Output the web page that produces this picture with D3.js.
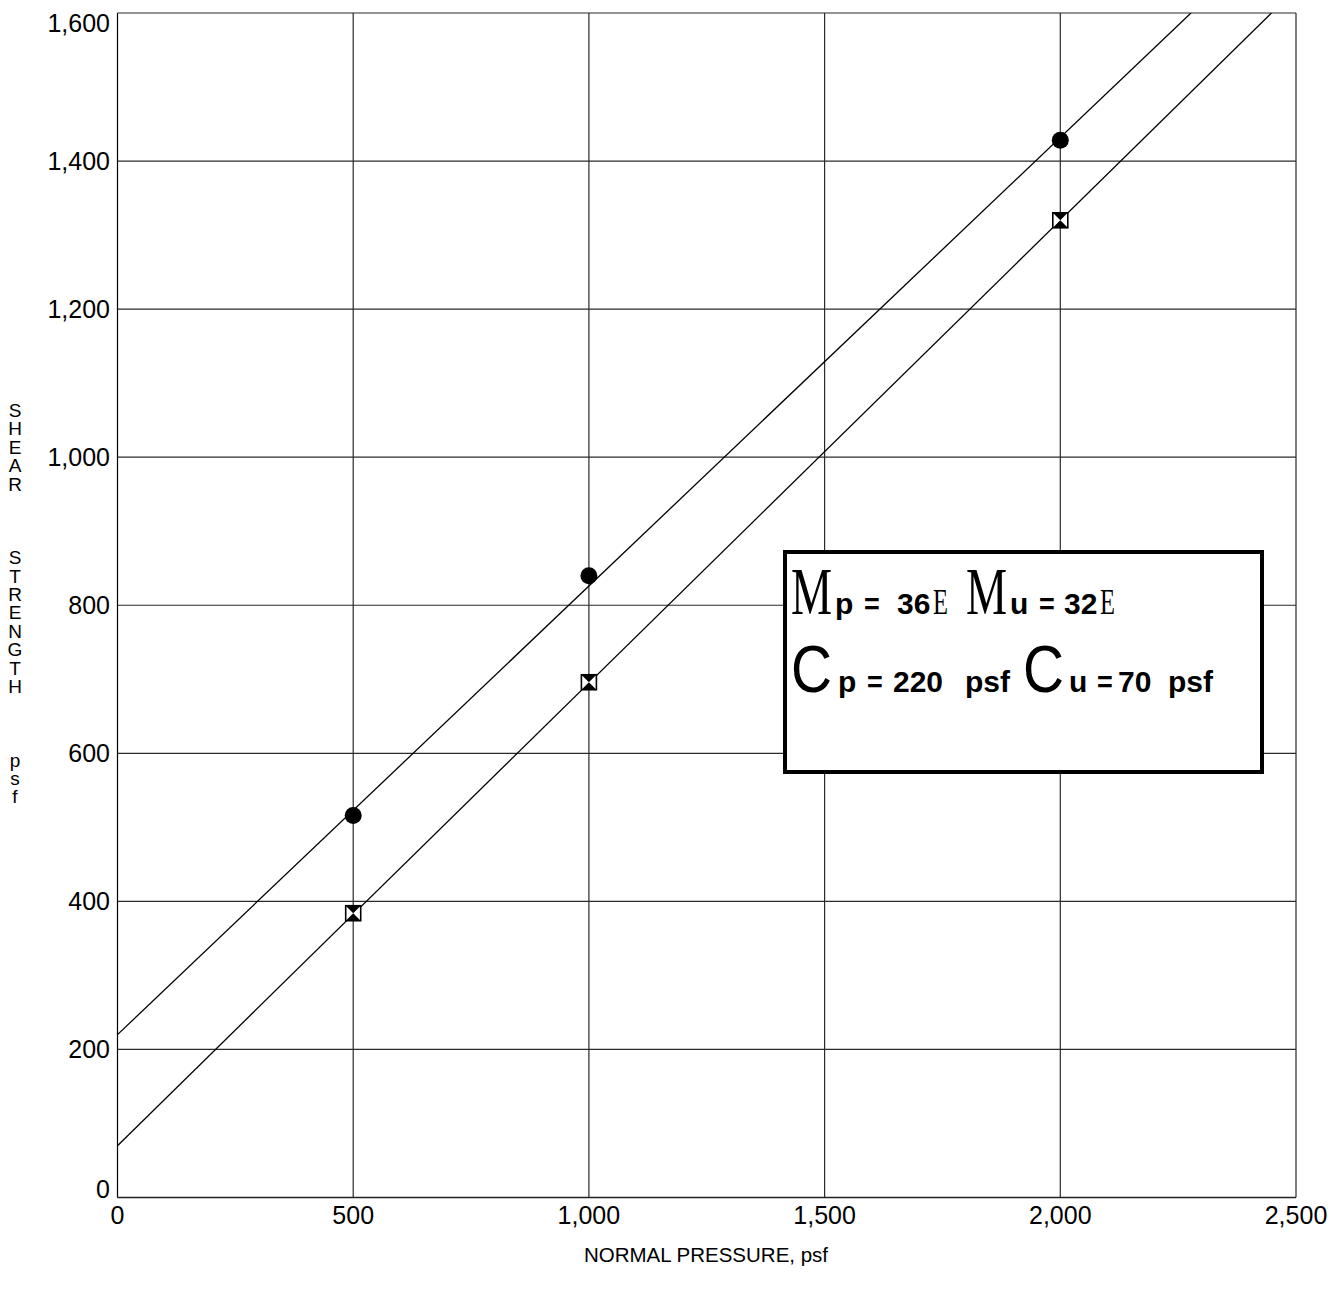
<!DOCTYPE html>
<html>
<head>
<meta charset="utf-8">
<script src="https://cdn.jsdelivr.net/npm/d3@7"></script>
<style>
  html, body { margin: 0; padding: 0; background: #fff; }
  svg { display: block; }
</style>
</head>
<body>
<svg id="chart" width="1332" height="1289"></svg>
<script>
// Direct shear test results: peak and ultimate strength vs normal pressure
const normalPressure = [500, 1000, 2000];
const peakShear = [516, 840, 1428];
const ultimateShear = [384, 696, 1320];

// Failure envelopes: intercept (cohesion, psf) and slope
const envelopeNames = ["peak", "ultimate"];
const envelopeIntercepts = [220, 70];
const envelopeSlopes = [0.606, 0.625];

const xTicks = [0, 500, 1000, 1500, 2000, 2500];
const yTicks = [0, 200, 400, 600, 800, 1000, 1200, 1400, 1600];

const xTitle = "NORMAL PRESSURE, psf";
const yTitleLetters = ["S","H","E","A","R","","","","S","T","R","E","N","G","T","H","","","","p","s","f"];

const margin = { left: 117.5, top: 13, right: 36, bottom: 91.5 };
const W = 1332, H = 1289;
const innerW = W - margin.left - margin.right;
const innerH = H - margin.top - margin.bottom;

const svg = d3.select("#chart");
const g = svg.append("g").attr("transform", `translate(${margin.left},${margin.top})`);

const x = d3.scaleLinear().domain([0, 2500]).range([0, innerW]);
const y = d3.scaleLinear().domain([0, 1600]).range([innerH, 0]);
const fmt = d3.format(",");

// Grid
g.append("g").selectAll("line.vg").data(xTicks).join("line")
  .attr("x1", d => x(d)).attr("x2", d => x(d))
  .attr("y1", 0).attr("y2", innerH)
  .attr("stroke", d => d === 0 ? "#000" : "#2a2a2a").attr("stroke-width", 1.2);
g.append("g").selectAll("line.hg").data(yTicks).join("line")
  .attr("x1", 0).attr("x2", innerW)
  .attr("y1", d => y(d)).attr("y2", d => y(d))
  .attr("stroke", "#2a2a2a").attr("stroke-width", 1.2);

// Tick labels
const tickFont = "'Liberation Sans', Arial, sans-serif";
g.append("g").selectAll("text").data(yTicks).join("text")
  .attr("x", -7.5)
  .attr("y", d => Math.min(innerH - 9, Math.max(10, y(d))))
  .attr("dy", "0.36em")
  .attr("text-anchor", "end")
  .attr("font-family", tickFont).attr("font-size", 25)
  .text(d => fmt(d));
g.append("g").selectAll("text").data(xTicks).join("text")
  .attr("x", d => x(d))
  .attr("y", innerH + 26)
  .attr("text-anchor", "middle")
  .attr("font-family", tickFont).attr("font-size", 25)
  .text(d => fmt(d));

// Axis titles
svg.append("text")
  .attr("x", 706).attr("y", 1262)
  .attr("text-anchor", "middle")
  .attr("font-family", tickFont).attr("font-size", 20.5)
  .text(xTitle);
svg.append("g").selectAll("text").data(yTitleLetters).join("text")
  .attr("x", 15)
  .attr("y", (d, i) => 417 + i * 18.4)
  .attr("text-anchor", "middle")
  .attr("font-family", tickFont).attr("font-size", 19)
  .text(d => d);

// Envelope lines, clipped to the plot
svg.append("clipPath").attr("id", "plotClip")
  .append("rect").attr("x", 0).attr("y", 0).attr("width", innerW).attr("height", innerH);
const envelopes = envelopeNames.map((n, i) => ({ c: envelopeIntercepts[i], m: envelopeSlopes[i] }));
g.append("g").attr("clip-path", "url(#plotClip)")
  .selectAll("line").data(envelopes).join("line")
  .attr("x1", x(0)).attr("y1", d => y(d.c))
  .attr("x2", d => x(Math.min(2500, (1600 - d.c) / d.m)))
  .attr("y2", d => y(Math.min(1600, d.c + d.m * 2500)))
  .attr("stroke", "#000").attr("stroke-width", 1.3);

// Peak points: filled circles
g.append("g").selectAll("circle").data(normalPressure).join("circle")
  .attr("cx", d => x(d)).attr("cy", (d, i) => y(peakShear[i]))
  .attr("r", 8.5).attr("fill", "#000");

// Ultimate points: square with hourglass
const s = 7.5;
const ult = g.append("g").selectAll("g").data(normalPressure).join("g")
  .attr("transform", (d, i) => `translate(${x(d)},${y(ultimateShear[i])})`);
ult.append("rect").attr("x", -s).attr("y", -s).attr("width", 2 * s).attr("height", 2 * s)
  .attr("fill", "#fff").attr("stroke", "#000").attr("stroke-width", 1.6);
ult.append("path")
  .attr("d", `M${-s},${-s}L${s},${-s}L0,0Z M${-s},${s}L${s},${s}L0,0Z`)
  .attr("fill", "#000");

// Bottom axis line
g.append("line").attr("x1", 0).attr("x2", innerW).attr("y1", innerH).attr("y2", innerH)
  .attr("stroke", "#222").attr("stroke-width", 1.4);

// Parameter box
svg.append("rect")
  .attr("x", 785).attr("y", 552).attr("width", 477).attr("height", 220)
  .attr("fill", "#fff").attr("stroke", "#000").attr("stroke-width", 4);

const serif = "'Liberation Serif', 'Times New Roman', serif";
const sansB = "'Liberation Sans', Arial, sans-serif";
const boxText = svg.append("g");
// Each piece is placed at its baseline origin and squeezed horizontally by sx
function piece(str, px, py, family, size, weight, sx) {
  return boxText.append("text")
    .attr("transform", `translate(${px},${py}) scale(${sx || 1},1)`)
    .attr("font-family", family).attr("font-size", size)
    .attr("font-weight", weight)
    .text(str);
}
// Row 1: friction angles
piece("M", 791, 614, serif, 68, "normal", 0.68);
piece("p", 835, 614, sansB, 30, "bold");
piece("=", 864, 614, sansB, 30, "bold", 0.9);
piece("36", 897, 614, sansB, 30, "bold");
piece("E", 933, 614, serif, 35, "normal", 0.7);
piece("M", 966, 614, serif, 68, "normal", 0.68);
piece("u", 1010, 614, sansB, 30, "bold");
piece("=", 1039, 614, sansB, 30, "bold", 0.9);
piece("32", 1064, 614, sansB, 30, "bold");
piece("E", 1100, 614, serif, 35, "normal", 0.7);
// Row 2: cohesion
piece("C", 791, 692, sansB, 66, "normal", 0.86);
piece("p", 838, 692, sansB, 30, "bold");
piece("=", 867, 692, sansB, 30, "bold", 0.9);
piece("220", 893, 692, sansB, 30, "bold");
piece("psf", 965, 692, sansB, 30, "bold");
piece("C", 1023, 692, sansB, 66, "normal", 0.86);
piece("u", 1069, 692, sansB, 30, "bold");
piece("=", 1097, 692, sansB, 30, "bold", 0.9);
piece("70", 1118, 692, sansB, 30, "bold");
piece("psf", 1168, 692, sansB, 30, "bold");
</script>
</body>
</html>
